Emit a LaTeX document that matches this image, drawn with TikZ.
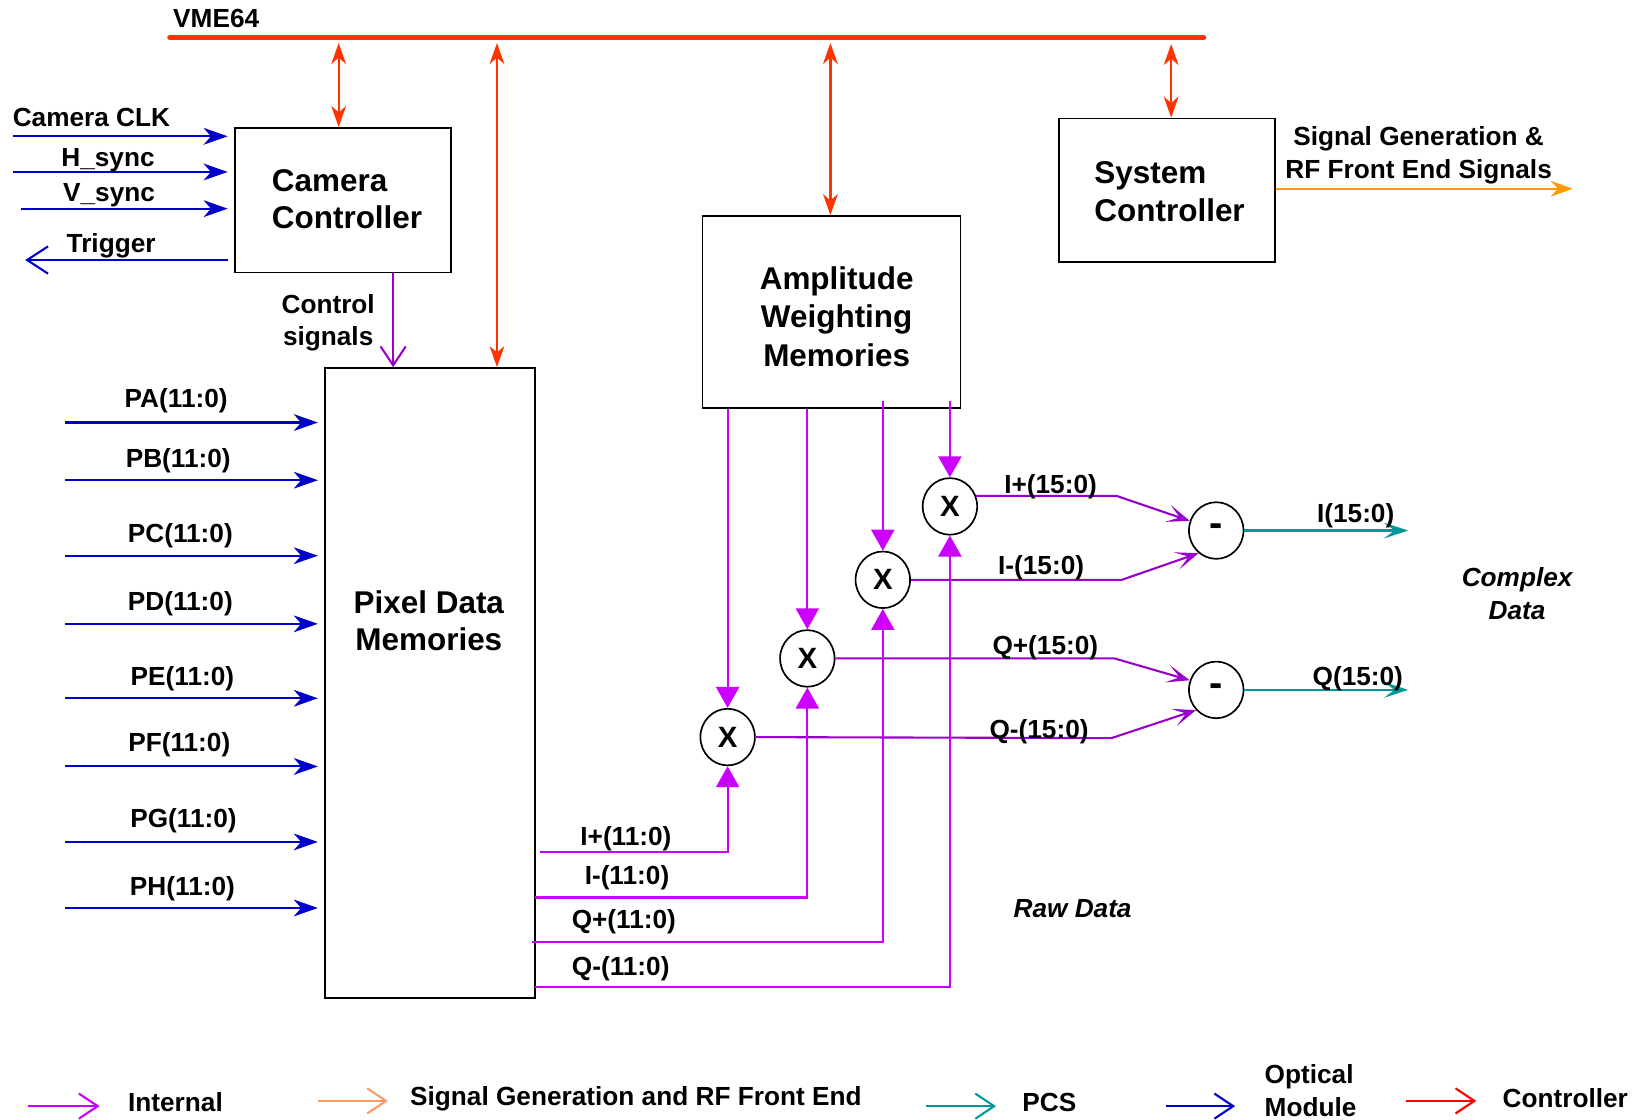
\documentclass[tikz,border=0pt]{standalone}
\usepackage{fontspec}
\setmainfont{Liberation Sans}
\usetikzlibrary{arrows.meta,shapes.geometric,calc}
\definecolor{busred}{RGB}{255,51,0}
\definecolor{optblue}{RGB}{0,0,204}
\definecolor{intmag}{RGB}{204,0,255}
\definecolor{intpur}{RGB}{153,0,204}
\definecolor{pcsteal}{RGB}{0,153,153}
\definecolor{sgorange}{RGB}{255,153,0}
\definecolor{sglight}{RGB}{255,153,102}
\definecolor{ctrlred}{RGB}{255,0,0}
\begin{document}
\begin{tikzpicture}[x=1pt,y=-1pt,
  sLbl/.style={font=\fontsize{25}{31}\selectfont\bfseries, inner sep=0pt},
  sIt/.style={font=\fontsize{25}{31}\selectfont\bfseries\itshape, inner sep=0pt},
  sBig/.style={font=\fontsize{30}{36}\selectfont\bfseries, inner sep=0pt},
  sBlk/.style={draw, line width=1.6pt, inner sep=0pt},
  sOp/.style={draw, ellipse, line width=1.6pt, minimum width=52pt, minimum height=54pt, inner sep=0pt, font=\fontsize{28}{30}\selectfont\bfseries},
  sSub/.style={sOp, font=\fontsize{38}{40}\selectfont\bfseries},
  sBus/.style={busred, line width=5pt, line cap=round},
  sCtl/.style={busred, line width=2.2pt, {Stealth[length=20pt,width=14pt,inset=6pt]}-{Stealth[length=20pt,width=14pt,inset=6pt]}},
  sOpt/.style={optblue, line width=2pt, -{Stealth[length=23pt,width=16pt,inset=7pt]}},
  sOpen/.style={line width=2pt, -{Straight Barb[length=18pt,width=24pt]}},
  sFeed/.style={intmag, line width=2pt, -{Triangle[length=20pt,width=22pt]}},
  sOut/.style={intpur, line width=2pt, -{Stealth[length=22pt,width=17pt,inset=12pt]}},
  sPcs/.style={pcsteal, line width=2pt, -{Stealth[length=23pt,width=15pt,inset=10pt]}},
  sSg/.style={sgorange, line width=2pt, -{Stealth[length=21pt,width=15pt,inset=7pt]}}
]
\useasboundingbox (0,0) rectangle (1568,1068);

% VME64 bus
\coordinate (busL) at (162,36);
\coordinate (busR) at (1148,36);
\draw[sBus] (busL) -- (busR);
\node[sLbl, anchor=base west] (vme) at (165,26) {VME64};

% blocks
\node[sBlk, minimum width=206pt, minimum height=138pt] (cam) at (327,191) {};
\node[sBig, align=left] (camT) at (331,190) {Camera\\Controller};
\node[sBlk, minimum width=206pt, minimum height=137pt] (sys) at (1113,181.5) {};
\node[sBig, align=left] (sysT) at (1115.5,183) {System\\Controller};
\node[sBlk, minimum width=246pt, minimum height=183pt] (amp) at (793,297.5) {};
\node[sBig, align=center, font=\fontsize{30}{37}\selectfont\bfseries] (ampT) at (798,302) {Amplitude\\Weighting\\Memories};
\node[sBlk, minimum width=200pt, minimum height=601pt] (pix) at (410,651.5) {};
\node[sBig, align=center] (pixT) at (409,592) {Pixel Data\\Memories};

% controller links to bus
\coordinate (t1) at (323,41);
\coordinate (t2) at (474,41);
\coordinate (t3) at (792,41);
\coordinate (t4) at (1117,42);
\draw[sCtl] (t1) -- (t1 |- cam.north);
\draw[sCtl] (t2) -- (t2 |- pix.north);
\draw[sCtl] (t3) -- (t3 |- amp.north);
\draw[sCtl] (t4) -- (t4 |- sys.north);

% camera inputs
\coordinate (clk) at (12,130);
\coordinate (hs) at (12,164);
\coordinate (vs) at (20,199);
\coordinate (trg) at (24,248);
\draw[sOpt, shorten >=6pt] (clk) -- (clk -| cam.west);
\draw[sOpt, shorten >=6pt] (hs) -- (hs -| cam.west);
\draw[sOpt, shorten >=6pt] (vs) -- (vs -| cam.west);
\draw[optblue, line width=2pt, -{Straight Barb[length=20pt,width=26pt]}, shorten <=6pt] (trg -| cam.west) -- (trg);
\node[sLbl, anchor=base west] (clkL) at (12,121) {Camera CLK};
\node[sLbl, anchor=base] (hsL) at (103,159) {H\_sync};
\node[sLbl, anchor=base] (vsL) at (104,192) {V\_sync};
\node[sLbl, anchor=base] (trgL) at (106,241) {Trigger};

% control signals
\coordinate (csx) at (375,300);
\draw[sOpen, intpur] (csx |- cam.south) -- (csx |- pix.north);
\node[sLbl, align=center] (csL) at (313,308) {Control\\signals};

% pixel inputs
\foreach \nm/\yy/\lx/\ly in {PA/403/168/389, PB/458/170/446, PC/530/172/517, PD/595/172/582, PE/666/174/654, PF/731/171/717, PG/803/175/789, PH/866/174/854} {
  \coordinate (in\nm) at (62,\yy);
  \draw[sOpt, shorten >=6pt] (in\nm) -- (in\nm -| pix.west);
  \node[sLbl, anchor=base] (lb\nm) at (\lx,\ly) {\nm(11:0)};
}

% multipliers and subtractors
\node[sOp] (M4) at (906,483) {X};
\node[sOp] (M3) at (842,553) {X};
\node[sOp] (M2) at (770,628) {X};
\node[sOp] (M1) at (694,703) {X};
\node[sSub] (S1) at (1160,506) {-};
\node[sSub] (S2) at (1160,658) {-};

% weights to multipliers
\draw[sFeed] (M1 |- amp.south) -- (M1.north);
\draw[sFeed] (M2 |- amp.south) -- (M2.north);
\draw[sFeed] ($(M3 |- amp.south)+(0,-7)$) -- (M3.north);
\draw[sFeed] ($(M4 |- amp.south)+(0,-7)$) -- (M4.north);

% pixel data to multipliers
\coordinate (oIp) at (515,812.5);
\coordinate (oIm) at (510,856);
\coordinate (oQp) at (507,898.5);
\coordinate (oQm) at (510,941);
\draw[sFeed] (oIp) -| (M1.south);
\draw[sFeed] (oIm) -| (M2.south);
\draw[sFeed] (oQp) -| (M3.south);
\draw[sFeed] (oQm) -| (M4.south);
\node[sLbl, anchor=base] (lIp11) at (597,806) {I+(11:0)};
\node[sLbl, anchor=base] (lIm11) at (598,844) {I-(11:0)};
\node[sLbl, anchor=base] (lQp11) at (595,886) {Q+(11:0)};
\node[sLbl, anchor=base] (lQm11) at (592,930) {Q-(11:0)};

% products to subtractors
\coordinate (k4) at (1065,473);
\coordinate (k3) at (1070,553);
\coordinate (k2) at (1063,628);
\coordinate (k1) at (1060,704);
\draw[sOut] (M4.22) -- (k4) -- (S1.160);
\draw[sOut] (M3.east) -- (k3) -- (S1.232);
\draw[sOut] (M2.east) -- (k2) -- (S2.160);
\draw[sOut] (M1.east) -- (k1) -- (S2.225);
\node[sLbl, anchor=base] (lIp15) at (1002,471) {I+(15:0)};
\node[sLbl, anchor=base] (lIm15) at (993,548) {I-(15:0)};
\node[sLbl, anchor=base] (lQp15) at (997,624) {Q+(15:0)};
\node[sLbl, anchor=base] (lQm15) at (991,704) {Q-(15:0)};

% outputs
\coordinate (iO) at (1343,504);
\coordinate (qO) at (1343,660);
\draw[sPcs] (S1.east) -- (S1.east -| iO);
\draw[sPcs] (S2.east) -- (S2.east -| qO);
\node[sLbl, anchor=base] (lI) at (1293,498) {I(15:0)};
\node[sLbl, anchor=base] (lQ) at (1295,654) {Q(15:0)};
\node[sIt, align=center] (cplx) at (1447,566) {Complex\\Data};
\node[sIt, anchor=base] (raw) at (1023,875) {Raw Data};

% system controller output
\coordinate (sgO) at (1500,180);
\draw[sSg] (sys.east |- sgO) -- (sgO);
\node[sLbl, align=center] (sgL) at (1353,148) {Signal Generation \&\\RF Front End Signals};

% legend
\coordinate (g1a) at (27,1055);  \coordinate (g1b) at (95,1055);
\coordinate (g2a) at (303,1050); \coordinate (g2b) at (370,1050);
\coordinate (g3a) at (883,1055); \coordinate (g3b) at (950,1055);
\coordinate (g4a) at (1112,1055); \coordinate (g4b) at (1178,1055);
\coordinate (g5a) at (1341,1050); \coordinate (g5b) at (1408,1050);
\draw[sOpen, intmag] (g1a) -- (g1b);
\draw[sOpen, sglight] (g2a) -- (g2b);
\draw[sOpen, pcsteal] (g3a) -- (g3b);
\draw[sOpen, optblue] (g4a) -- (g4b);
\draw[sOpen, ctrlred] (g5a) -- (g5b);
\node[sLbl, anchor=base west] (g1L) at (122,1060) {Internal};
\node[sLbl, anchor=base west] (g2L) at (391,1054) {Signal Generation and RF Front End};
\node[sLbl, anchor=base west] (g3L) at (975,1060) {PCS};
\node[sLbl, anchor=west, align=left] (g4L) at (1206,1040) {Optical\\Module};
\node[sLbl, anchor=base west] (g5L) at (1433,1056) {Controller};
\end{tikzpicture}
\end{document}
